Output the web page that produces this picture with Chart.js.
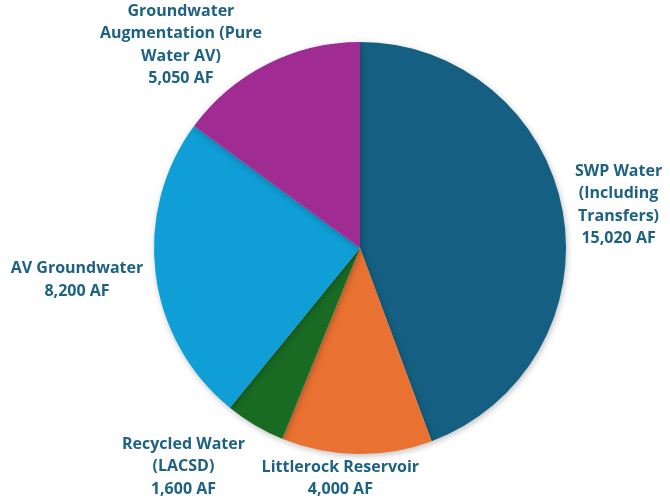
<!DOCTYPE html>
<html>
<head>
<meta charset="utf-8">
<script src="https://cdn.jsdelivr.net/npm/chart.js@4"></script>
<style>
  html, body { margin: 0; padding: 0; background: #fff; }
  #wrap { width: 670px; height: 500px; position: relative; }
</style>
</head>
<body>
<div id="wrap"><canvas id="pie"></canvas></div>
<script>
'use strict';

// ── DATA ──
const sources = ['SWP Water (Including Transfers)', 'Littlerock Reservoir', 'Recycled Water (LACSD)', 'AV Groundwater', 'Groundwater Augmentation (Pure Water AV)'];
const volumesAF = [15020, 4000, 1600, 8200, 5050];
const labelLines = [
  ['SWP Water', '(Including', 'Transfers)', '15,020 AF'],
  ['Littlerock Reservoir', '4,000 AF'],
  ['Recycled Water', '(LACSD)', '1,600 AF'],
  ['AV Groundwater', '8,200 AF'],
  ['Groundwater', 'Augmentation (Pure', 'Water AV)', '5,050 AF'],
];

// ── STYLE ──
const COLORS = ['#156082', '#E97132', '#196B24', '#0F9ED5', '#A02B93'];
const LABEL_COLOR = '#1d6283';
const LABEL_FONT = 'bold 16px "Open Sans", sans-serif';
const LINE_H = 22.5;
// nudges applied after placing each label block outside its slice
const NUDGE = [[3, 3], [-15, -8], [-35, 4], [-3, 2], [-45, 30]];

// outside labels, block placed against arc midpoint
const outsideLabels = {
  id: 'outsideLabels',
  afterDatasetsDraw(chart) {
    const { ctx } = chart;
    const meta = chart.getDatasetMeta(0);
    ctx.save();
    ctx.font = LABEL_FONT;
    ctx.fillStyle = LABEL_COLOR;
    ctx.textAlign = 'center';
    ctx.textBaseline = 'middle';
    meta.data.forEach((arc, i) => {
      const mid = (arc.startAngle + arc.endAngle) / 2;
      const r = arc.outerRadius + 10;
      const ax = arc.x + Math.cos(mid) * r;
      const ay = arc.y + Math.sin(mid) * r;
      const lines = labelLines[i];
      const w = Math.max(...lines.map(l => ctx.measureText(l).width));
      const h = lines.length * LINE_H;
      const cx = ax + Math.cos(mid) * w / 2 + NUDGE[i][0];
      const cy = ay + Math.sin(mid) * h / 2 + NUDGE[i][1];
      lines.forEach((l, k) => {
        ctx.fillText(l, cx, cy - h / 2 + LINE_H * (k + 0.5));
      });
    });
    ctx.restore();
  }
};

// soft drop shadow under the pie
const pieShadow = {
  id: 'pieShadow',
  beforeDatasetDraw(chart) {
    const { ctx } = chart;
    ctx.save();
    ctx.shadowColor = 'rgba(0,0,0,0.25)';
    ctx.shadowBlur = 6;
    ctx.shadowOffsetX = 1;
    ctx.shadowOffsetY = 2;
  },
  afterDatasetDraw(chart) {
    chart.ctx.restore();
  }
};

new Chart(document.getElementById('pie'), {
  type: 'pie',
  data: {
    labels: sources,
    datasets: [{
      data: volumesAF,
      backgroundColor: COLORS,
      borderWidth: 0,
    }],
  },
  options: {
    responsive: true,
    maintainAspectRatio: false,
    animation: false,
    layout: { padding: { top: 42, bottom: 46, left: 154, right: 104 } },
    plugins: {
      legend: { display: false },
      tooltip: { enabled: false },
    },
  },
  plugins: [pieShadow, outsideLabels],
});
</script>
</body>
</html>
